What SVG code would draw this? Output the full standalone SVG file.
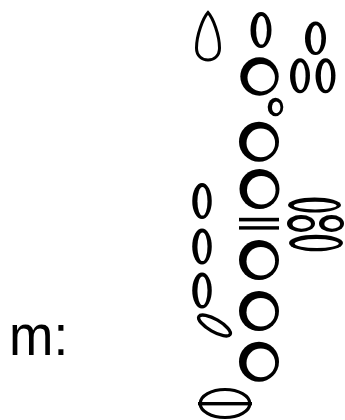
<svg xmlns="http://www.w3.org/2000/svg" xmlns:xlink="http://www.w3.org/1999/xlink" width="345" height="420" viewBox="0 0 345 420">
<style>
.k{fill:#000}
.h{fill:#fff}
.s{fill:none;stroke:#000}
.lbl{font-family:"Liberation Sans",Arial,sans-serif;fill:#000}
</style>
<defs>
<g id="ring"><circle r="20" class="k"/><circle cx="1.8" cy="1.2" r="14.3" class="h"/></g>
<g id="oval"><ellipse rx="10.5" ry="18" class="k"/><ellipse cx="0.5" cy="0.3" rx="5.4" ry="14.3" class="h"/></g>
</defs>
<rect width="345" height="420" fill="#fff"/>
<text class="lbl" font-size="58" transform="translate(9,355) scale(0.92,1)">m:</text>
<g id="octave-key"><path class="s" stroke-width="3" d="M208,12.5 C203,18 196.5,35 196.5,48 C196.5,56 202,60 208,60 C214,60 219.5,56 219.5,48 C219.5,35 213,18 208,12.5 Z"/></g>
<g id="key-top"><use xlink:href="#oval" transform="translate(261,30)"/></g>
<g id="key-top-right"><use xlink:href="#oval" transform="translate(315.5,38.3) scale(1,0.93)"/></g>
<g id="hole-1"><use xlink:href="#ring" transform="translate(259.5,76.5) scale(0.96)"/></g>
<g id="key-side-1"><use xlink:href="#oval" transform="translate(300,75.8) scale(0.95,0.97)"/></g>
<g id="key-side-2"><use xlink:href="#oval" transform="translate(325.5,75.8) scale(0.95,0.97)"/></g>
<g id="key-small"><ellipse cx="275.5" cy="107" rx="7.8" ry="9.2" class="k"/><ellipse cx="276.2" cy="107.4" rx="4.2" ry="5.9" class="h"/></g>
<g id="hole-2"><use xlink:href="#ring" transform="translate(259,141.7)"/></g>
<g id="hole-3"><use xlink:href="#ring" transform="translate(259.5,189)"/></g>
<g id="separator"><rect x="239" y="217.8" width="40" height="3.6" class="k"/><rect x="239" y="226.2" width="40" height="3.4" class="k"/></g>
<g id="hole-4"><use xlink:href="#ring" transform="translate(259,260)"/></g>
<g id="hole-5"><use xlink:href="#ring" transform="translate(259,311)"/></g>
<g id="hole-6"><use xlink:href="#ring" transform="translate(259,361.7)"/></g>
<g id="left-key-1"><use xlink:href="#oval" transform="translate(202,201) scale(0.93,1)"/></g>
<g id="left-key-2"><use xlink:href="#oval" transform="translate(202,246.5) scale(0.93,1)"/></g>
<g id="left-key-3"><use xlink:href="#oval" transform="translate(202,290.5) scale(0.93,1)"/></g>
<g id="left-key-tilted"><ellipse cx="214.5" cy="325.5" rx="18" ry="6.2" transform="rotate(30 214.5 325.5)" class="s" stroke-width="3.4"/></g>
<g id="right-key-top"><ellipse cx="314.5" cy="205" rx="26.5" ry="7.5" class="k"/><ellipse cx="315.2" cy="205.6" rx="21.5" ry="3.8" class="h"/></g>
<g id="right-key-mid-1"><ellipse cx="301" cy="223.5" rx="14" ry="8.5" class="k"/><ellipse cx="301.7" cy="223.9" rx="9.3" ry="4.9" class="h"/></g>
<g id="right-key-mid-2"><ellipse cx="331.5" cy="223.5" rx="12.5" ry="8.5" class="k"/><ellipse cx="332.2" cy="223.9" rx="7.9" ry="4.9" class="h"/></g>
<g id="right-key-bottom"><ellipse cx="316" cy="243" rx="27" ry="8.3" class="k"/><ellipse cx="316.7" cy="243.6" rx="22" ry="4.5" class="h"/></g>
<g id="bell-key"><ellipse cx="225" cy="403.5" rx="24.8" ry="14" class="s" stroke-width="3.2"/><rect x="198" y="402" width="54" height="3.4" class="k"/></g>
<g id="connectors"/>
</svg>
